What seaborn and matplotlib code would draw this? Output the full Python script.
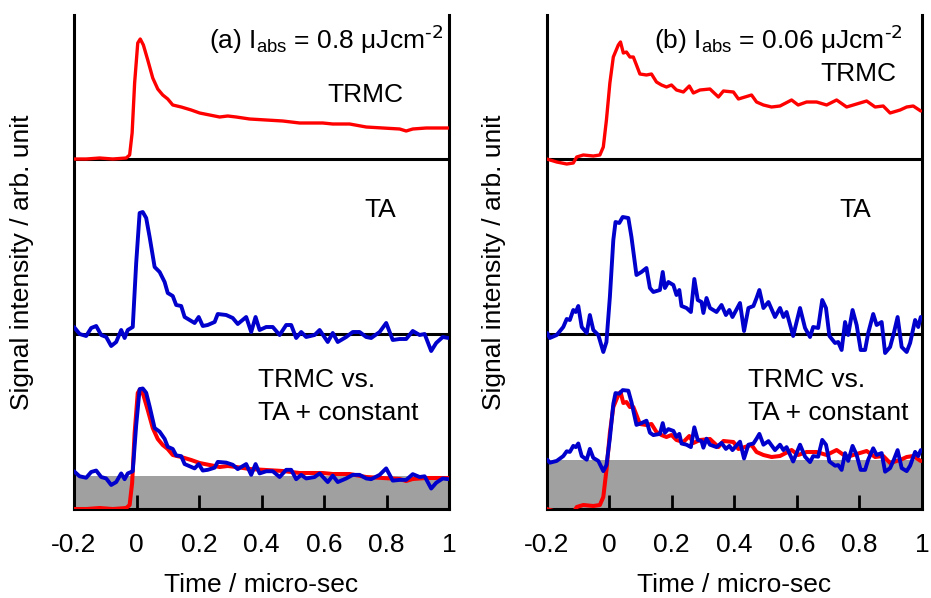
import numpy as np
import pandas as pd
import seaborn as sns
import matplotlib.pyplot as plt

# ---- (a) I_abs = 0.8 uJ/cm2 ----
t_trmc_a = [-0.2, -0.16, -0.118, -0.076, -0.033, -0.022, -0.014, -0.006, 0.004, 0.012, 0.022, 0.036,
            0.052, 0.068, 0.084, 0.1, 0.116, 0.143, 0.175, 0.202, 0.234, 0.266, 0.292, 0.319, 0.362,
            0.415, 0.468, 0.522, 0.559, 0.596, 0.628, 0.682, 0.735, 0.788, 0.842, 0.863, 0.884, 0.927,
            0.97, 0.998]
trmc_a = [0.0, 0.0, 0.01, 0.0, 0.01, 0.04, 0.26, 0.76, 1.16, 1.2, 1.14, 0.99,
          0.81, 0.7, 0.64, 0.6, 0.54, 0.52, 0.49, 0.46, 0.44, 0.42, 0.43, 0.42, 0.4,
          0.39, 0.38, 0.36, 0.36, 0.36, 0.35, 0.35, 0.32, 0.31, 0.3, 0.28, 0.3, 0.31,
          0.31, 0.31]
t_ta_a = [-0.2, -0.182, -0.161, -0.145, -0.129, -0.113, -0.097, -0.081, -0.065, -0.049, -0.038, -0.028,
          -0.012, -0.001, 0.01, 0.02, 0.031, 0.042, 0.058, 0.074, 0.09, 0.1, 0.116, 0.127, 0.143,
          0.154, 0.17, 0.186, 0.199, 0.212, 0.228, 0.25, 0.26, 0.287, 0.308, 0.324, 0.351, 0.367,
          0.381, 0.394, 0.415, 0.436, 0.458, 0.479, 0.495, 0.511, 0.527, 0.543, 0.57, 0.586, 0.612,
          0.628, 0.644, 0.671, 0.692, 0.714, 0.735, 0.751, 0.778, 0.799, 0.82, 0.842, 0.863, 0.884,
          0.906, 0.922, 0.943, 0.959, 0.98, 0.998]
ta_a = [0.07, 0.0, -0.02, 0.06, 0.08, -0.01, -0.03, -0.12, -0.08, 0.04, -0.04, 0.04,
        0.07, 0.71, 1.21, 1.22, 1.16, 0.97, 0.67, 0.62, 0.52, 0.41, 0.38, 0.29, 0.28,
        0.17, 0.14, 0.11, 0.17, 0.08, 0.09, 0.12, 0.2, 0.19, 0.16, 0.1, 0.17, 0.02,
        0.17, 0.04, 0.07, 0.07, -0.01, 0.09, 0.09, -0.04, 0.02, -0.03, -0.01, 0.04, -0.08,
        0.01, -0.08, -0.03, 0.02, 0.02, -0.03, -0.04, 0.02, 0.11, -0.06, -0.05, -0.05, 0.03,
        -0.01, 0.0, -0.17, -0.09, -0.03, -0.04]
const_a = 0.327   # grey "constant" level
scale_a = 0.72    # TA scaling in the comparison panel

# ---- (b) I_abs = 0.06 uJ/cm2 ----
t_trmc_b = [-0.2, -0.168, -0.136, -0.115, -0.104, -0.083, -0.051, -0.03, -0.019, -0.009, 0.002, 0.013,
            0.029, 0.036, 0.045, 0.055, 0.066, 0.077, 0.087, 0.098, 0.119, 0.135, 0.151, 0.167,
            0.183, 0.199, 0.215, 0.237, 0.256, 0.269, 0.29, 0.322, 0.349, 0.365, 0.397, 0.413,
            0.434, 0.455, 0.471, 0.493, 0.519, 0.546, 0.583, 0.604, 0.631, 0.663, 0.695, 0.727,
            0.759, 0.791, 0.823, 0.85, 0.876, 0.898, 0.93, 0.951, 0.972, 0.996]
trmc_b = [0.0, -0.03, -0.05, -0.04, 0.02, 0.04, 0.03, 0.04, 0.12, 0.39, 0.76, 1.02,
          1.14, 1.17, 1.06, 1.07, 1.02, 1.02, 0.94, 0.85, 0.84, 0.85, 0.77, 0.74,
          0.72, 0.74, 0.69, 0.67, 0.73, 0.66, 0.69, 0.7, 0.62, 0.68, 0.67, 0.6,
          0.62, 0.64, 0.57, 0.54, 0.52, 0.53, 0.59, 0.54, 0.57, 0.57, 0.54, 0.59,
          0.52, 0.55, 0.58, 0.52, 0.53, 0.46, 0.49, 0.52, 0.53, 0.48]
t_ta_b = [-0.198, -0.19, -0.168, -0.147, -0.136, -0.126, -0.115, -0.107, -0.099, -0.088, -0.072, -0.062,
          -0.051, -0.035, -0.019, -0.009, 0.002, 0.013, 0.02, 0.032, 0.043, 0.061, 0.071, 0.087,
          0.103, 0.119, 0.13, 0.141, 0.162, 0.171, 0.178, 0.189, 0.205, 0.215, 0.224, 0.231,
          0.247, 0.261, 0.272, 0.283, 0.295, 0.301, 0.311, 0.322, 0.343, 0.359, 0.373, 0.384,
          0.394, 0.418, 0.431, 0.445, 0.461, 0.471, 0.48, 0.493, 0.509, 0.53, 0.546, 0.557,
          0.567, 0.588, 0.61, 0.626, 0.642, 0.652, 0.668, 0.681, 0.693, 0.704, 0.722, 0.732,
          0.743, 0.754, 0.764, 0.778, 0.791, 0.804, 0.818, 0.828, 0.844, 0.855, 0.871, 0.882,
          0.898, 0.91, 0.922, 0.935, 0.951, 0.962, 0.978, 0.988, 0.996]
ta_b = [0.01, -0.04, -0.01, 0.07, 0.15, 0.14, 0.24, 0.22, 0.28, 0.07, 0.01, 0.19,
        0.04, -0.01, -0.18, -0.08, 0.37, 0.94, 1.12, 1.11, 1.17, 1.16, 0.97, 0.59,
        0.62, 0.66, 0.46, 0.42, 0.44, 0.62, 0.46, 0.52, 0.49, 0.39, 0.44, 0.28,
        0.26, 0.22, 0.55, 0.34, 0.32, 0.21, 0.36, 0.26, 0.22, 0.29, 0.19, 0.24,
        0.17, 0.31, 0.03, 0.26, 0.28, 0.36, 0.44, 0.26, 0.32, 0.17, 0.26, 0.17,
        0.22, -0.02, 0.26, 0.06, -0.03, 0.07, 0.06, 0.34, 0.26, -0.02, -0.09, -0.08,
        -0.16, 0.12, -0.01, 0.24, 0.09, -0.16, -0.16, 0.01, 0.2, 0.09, 0.12, -0.19,
        -0.13, 0.01, 0.17, -0.13, -0.18, -0.09, 0.14, 0.07, 0.17]
const_b = 0.487
scale_b = 0.60

sns.set_style("white")
plt.rcParams['font.family'] = ['Liberation Sans', 'DejaVu Sans']
plt.rcParams['mathtext.default'] = 'regular'
for k in ('text.color', 'axes.labelcolor', 'xtick.color', 'ytick.color'):
    plt.rcParams[k] = 'black'

RED = '#ff0000'
BLUE = '#0000cc'
top_off, mid_off = 3.5, 1.75
fs = 19

fig = plt.figure(figsize=(9.31, 5.98), dpi=100)
ax_a = fig.add_axes([74 / 931, 89 / 598, 375 / 931, 494 / 598])
ax_b = fig.add_axes([546.7 / 931, 89 / 598, 375.3 / 931, 494 / 598])


def panel(ax, t_trmc, trmc, t_ta, ta, const, scale, title, title_x, trmc_pos, ta_pos, cmp_x):
    trmc = np.array(trmc)
    ta = np.array(ta)
    ax.set_axisbelow(False)
    # grey constant band
    ax.fill_between([-0.2, 1.0], 0, const, color='#a0a0a0', lw=0, zorder=1)
    for y in (mid_off, top_off):
        ax.axhline(y, color='black', lw=2.2, zorder=2)
    d1 = pd.DataFrame({'t': t_trmc, 'top': trmc + top_off, 'bot': trmc})
    d2 = pd.DataFrame({'t': t_ta, 'mid': ta + mid_off, 'bot': ta * scale + const})
    sns.lineplot(data=d1, x='t', y='top', ax=ax, color=RED, lw=2.4, estimator=None, zorder=3)
    sns.lineplot(data=d2, x='t', y='mid', ax=ax, color=BLUE, lw=2.8, estimator=None, zorder=3)
    sns.lineplot(data=d1, x='t', y='bot', ax=ax, color=RED, lw=2.9, estimator=None, zorder=3)
    sns.lineplot(data=d2, x='t', y='bot', ax=ax, color=BLUE, lw=2.8, estimator=None, zorder=4)

    ax.set_xlim(-0.2, 1.0)
    ax.set_ylim(0, 4.94)
    ax.set_yticks([])
    ax.set_xticks([-0.2, 0, 0.2, 0.4, 0.6, 0.8, 1.0])
    ax.set_xticklabels(['-0.2', '0', '0.2', '0.4', '0.6', '0.8', '1'])
    ax.tick_params(axis='x', direction='in', length=10, width=2, pad=17, labelsize=fs,
                   bottom=True, color='black', labelcolor='black')
    ax.spines['top'].set_visible(False)
    for s in ('left', 'right', 'bottom'):
        ax.spines[s].set_linewidth(2.2)
        ax.spines[s].set_color('black')
    ax.set_xlabel('Time / micro-sec', fontsize=fs, labelpad=12)
    ax.set_ylabel('Signal intensity / arb. unit', fontsize=fs, labelpad=29)

    ax.text(title_x, 4.69, title, fontsize=fs, ha='right', va='center')
    ax.text(trmc_pos[0], trmc_pos[1], 'TRMC', fontsize=fs, ha='center', va='center')
    ax.text(ta_pos[0], ta_pos[1], 'TA', fontsize=fs, ha='center', va='center')
    ax.text(cmp_x, 1.29, 'TRMC vs.', fontsize=fs, ha='left', va='center')
    ax.text(cmp_x, 0.96, 'TA + constant', fontsize=fs, ha='left', va='center')


panel(ax_a, t_trmc_a, trmc_a, t_ta_a, ta_a, const_a, scale_a,
      r'(a) I$_{abs}$ = 0.8 μJcm$^{\text{-2}}$', 0.98, (0.734, 4.14), (0.779, 2.99), 0.389)
panel(ax_b, t_trmc_b, trmc_b, t_ta_b, ta_b, const_b, scale_b,
      r'(b) I$_{abs}$ = 0.06 μJcm$^{\text{-2}}$', 0.94, (0.795, 4.35), (0.786, 2.99), 0.443)

fig.savefig('out.png', dpi=100)
